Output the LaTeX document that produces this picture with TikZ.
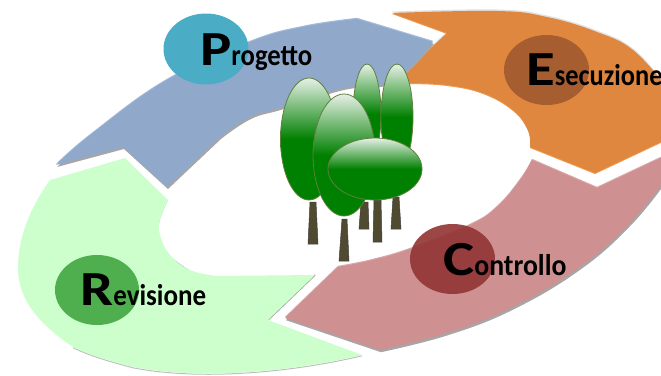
\documentclass[tikz,border=0pt]{standalone}
\usepackage{graphicx}
\usepackage{fontspec}
\setmainfont{Carlito}
\definecolor{blueA}{HTML}{90A9CB}
\definecolor{blueL}{HTML}{A3BBDC}
\definecolor{orangeA}{HTML}{E0873F}
\definecolor{orangeL}{HTML}{F09A50}
\definecolor{pinkA}{HTML}{CE9090}
\definecolor{pinkL}{HTML}{DCA6A6}
\definecolor{greenA}{HTML}{CCFFCC}
\definecolor{shadowG}{HTML}{A6A6A6}
\definecolor{treeG}{HTML}{008000}
\definecolor{treeL}{HTML}{E6F0E6}
\definecolor{treeE}{HTML}{5F7F3F}
\definecolor{trunkC}{HTML}{4F4A30}
\definecolor{discP}{HTML}{4BACC6}
\definecolor{discE}{HTML}{A65D2F}
\definecolor{discC}{HTML}{943636}
\definecolor{discR}{HTML}{4FAF4F}
\pgfdeclareverticalshading{treegrad}{100bp}{color(0bp)=(treeG);color(50bp)=(treeG);color(75bp)=(treeL);color(100bp)=(treeL)}
\newcommand{\biglab}[3]{\scalebox{1.2}[1]{\fontsize{49}{49}\selectfont #1}\scalebox{#3}[1]{\fontsize{30}{30}\selectfont #2}}
\tikzset{
  biglabel/.style={anchor=base west,inner sep=0pt,font=\bfseries,text=black},
  tree/.style={shading=treegrad,draw=treeE,line width=0.8pt},
  trunk/.style={fill=trunkC,draw=black!75,line width=0.5pt},
}
\newcommand{\bluepath}{(56,165) -- plot[smooth,tension=0.7] coordinates {(56,165) (93,133) (167,80) (250,42) (303,27) (357,19)} -- (433,42) -- plot[smooth,tension=0.7] coordinates {(433,42) (407,70) (385,84) (343,88) (283,107) (250,117) (220,137)} -- (167,187) -- (123,147) -- cycle}
\newcommand{\orangepath}{(392,13) -- plot[smooth,tension=0.7] coordinates {(392,13) (497,11) (547,17) (597,32) (633,50) (665,85)} -- (665,140) -- (595,173) -- (530,147) -- plot[smooth,tension=0.7] coordinates {(530,147) (528,130) (513,110) (483,93) (447,85) (410,83)} -- (405,72) -- (447,33) -- cycle}
\newcommand{\pinkpath}{(532,160) -- (597,188) -- (665,156) -- (665,180) -- plot[smooth,tension=0.7] coordinates {(665,180) (630,223) (580,267) (513,307) (447,333) (380,350)} -- (285,318) -- (338,267) -- plot[smooth,tension=0.7] coordinates {(338,267) (373,260) (413,248) (470,225) (497,207) (520,180) (532,160)} -- cycle}
\begin{document}
\begin{tikzpicture}[x=1pt,y=-1pt]
\useasboundingbox (0,0) rectangle (661,375);
\clip (0,0) rectangle (661,375);
% bands: soft edge, grey shadow, face
\fill[black!12,shift={(0,-1.5)}] \orangepath;
\fill[orangeL,shift={(0,1)}] \orangepath;
\fill[orangeA] \orangepath;
\fill[shadowG,shift={(1,2)}] \bluepath;
\fill[blueL,shift={(0,-1.2)}] \bluepath;
\fill[blueA] \bluepath;
\fill[shadowG,shift={(1,2.2)}] \pinkpath;
\fill[pinkL,shift={(0,-1.2)}] \pinkpath;
\fill[pinkA] \pinkpath;
% green band with partial shadows
\draw[shadowG,line width=1.6pt,shift={(-1.2,0.6)}] plot[smooth,tension=0.7] coordinates {(168,200) (160,220) (160,235) (170,255) (190,270)};
\coordinate (gnotchA) at (315,275);
\coordinate (gnotchB) at (268,320);
\draw[shadowG,line width=1.6pt,shift={(-0.4,0.6)}] (gnotchA) -- (gnotchB);
\draw[black!25,line width=1pt,shift={(0,0.8)}] (362,355) .. controls (290,372) and (200,380) .. (133,367) .. controls (110,361) and (90,355) .. (73,347);
\fill[greenA] (50,180) -- (125,158) -- (168,200) -- plot[smooth,tension=0.7] coordinates {(168,200) (160,220) (160,235) (170,255) (190,270) (217,276)} -- (315,275) -- (268,320) -- (362,355) .. controls (290,372) and (200,380) .. (133,367) .. controls (110,361) and (90,355) .. (73,347) .. controls (40,325) and (18,300) .. (18,268) .. controls (18,235) and (32,205) .. (50,180) -- cycle;
% discs
\fill[discP] (206,49) ellipse [x radius=42.5,y radius=35.5];
\fill[discE] (546.5,70) ellipse [x radius=42.5,y radius=35];
\fill[discC,fill opacity=0.92] (452.5,259) ellipse [x radius=42.5,y radius=35];
\fill[discR] (97,290) ellipse [x radius=42,y radius=35];
% trunks
\draw[trunk] (310,202) -- (316,202) -- (318,244) -- (308,244) -- cycle;
\draw[trunk] (342,219) -- (347,219) -- (349,261) -- (339,261) -- cycle;
\draw[trunk] (361,202) -- (368,202) -- (369,229) -- (359,229) -- cycle;
\draw[trunk] (374,200) -- (381,200) -- (382,242) -- (373,242) -- cycle;
\draw[trunk] (393,197) -- (399,197) -- (401,229) -- (391,229) -- cycle;
% crowns
\path[tree] (367,114) ellipse [x radius=14,y radius=50];
\path[tree] (397,117) ellipse [x radius=16,y radius=53];
\path[tree] (309,139) ellipse [x radius=28.5,y radius=61];
\path[tree] (344,155) ellipse [x radius=31,y radius=61];
\path[tree] (375,169) ellipse [x radius=47,y radius=31];
% labels
\node[biglabel] (lp) at (200,65) {\biglab{P}{rogetto}{0.89}};
\node[biglabel] (le) at (526,85) {\biglab{E}{secuzione}{0.88}};
\node[biglabel] (lc) at (443,275) {\biglab{C}{ontrollo}{0.925}};
\node[biglabel] (lr) at (80,305) {\biglab{R}{evisione}{0.90}};
\end{tikzpicture}
\end{document}
